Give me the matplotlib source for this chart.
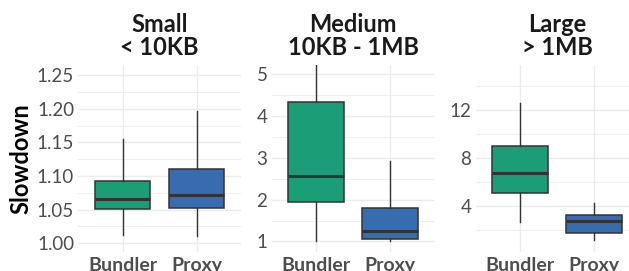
import matplotlib
matplotlib.use("Agg")
import matplotlib.pyplot as plt
from matplotlib.ticker import FixedLocator

plt.rcParams['font.family'] = ['Lato', 'DejaVu Sans']

groups = ["Bundler", "Proxy"]
panel_titles = ["Small\n< 10KB", "Medium\n10KB - 1MB", "Large\n> 1MB"]

# per panel: [Bundler, Proxy] stats (whislo, q1, med, q3, whishi)
small_whislo = [1.012, 1.010]
small_q1 = [1.051, 1.052]
small_med = [1.066, 1.071]
small_q3 = [1.092, 1.110]
small_whishi = [1.155, 1.197]

medium_whislo = [1.00, 1.00]
medium_q1 = [1.94, 1.06]
medium_med = [2.57, 1.26]
medium_q3 = [4.32, 1.80]
medium_whishi = [5.25, 2.91]

large_whislo = [2.7, 1.23]
large_q1 = [5.14, 1.78]
large_med = [6.78, 2.75]
large_q3 = [9.0, 3.25]
large_whishi = [12.56, 4.3]

panels = [
    (small_whislo, small_q1, small_med, small_q3, small_whishi),
    (medium_whislo, medium_q1, medium_med, medium_q3, medium_whishi),
    (large_whislo, large_q1, large_med, large_q3, large_whishi),
]

ylims = [(0.9876, 1.265), (0.76, 5.215), (0.25, 15.75)]
majors = [[1.00, 1.05, 1.10, 1.15, 1.20, 1.25], [1, 2, 3, 4, 5], [4, 8, 12]]
minors = [[1.025, 1.075, 1.125, 1.175, 1.225], [1.5, 2.5, 3.5, 4.5], [2, 6, 10, 14]]
fmts = ["{:.2f}", "{:.0f}", "{:.0f}"]

colors = ["#1b9e77", "#386cb0"]

W, H = 629, 271
fig = plt.figure(figsize=(W / 100, H / 100), dpi=100)

lefts = [78.3, 271.6, 475.6]
pw = 162.8
top_px, bot_px = 65, 251.5

for i, (stats_arr, lft) in enumerate(zip(panels, lefts)):
    ax = fig.add_axes([lft / W, 1 - bot_px / H, pw / W, (bot_px - top_px) / H])
    wlo, q1, med, q3, whi = stats_arr
    stats = []
    for j, g in enumerate(groups):
        stats.append(dict(label=g, whislo=wlo[j], q1=q1[j], med=med[j], q3=q3[j], whishi=whi[j], fliers=[]))
    bp = ax.bxp(stats, positions=[1, 2], widths=0.75, patch_artist=True, showcaps=False,
                showfliers=False,
                boxprops=dict(edgecolor="#333333", linewidth=1.1),
                medianprops=dict(color="#333333", linewidth=2.2),
                whiskerprops=dict(color="#333333", linewidth=1.0))
    for patch, c in zip(bp['boxes'], colors):
        patch.set_facecolor(c)
    ax.set_xlim(0.4, 2.6)
    ax.set_ylim(*ylims[i])
    ax.yaxis.set_major_locator(FixedLocator(majors[i]))
    ax.yaxis.set_minor_locator(FixedLocator(minors[i]))
    ax.set_yticklabels([fmts[i].format(v) for v in majors[i]])
    ax.set_xticks([1, 2])
    ax.set_xticklabels(groups, fontweight="bold")
    ax.grid(True, which="major", color="#ebebeb", linewidth=1.0, zorder=0)
    ax.grid(True, which="minor", axis="y", color="#ebebeb", linewidth=0.6, zorder=0)
    ax.set_axisbelow(True)
    for s in ax.spines.values():
        s.set_visible(False)
    ax.tick_params(axis="both", which="both", length=0)
    ax.tick_params(axis="y", labelsize=13.5, colors="#4d4d4d", pad=3)
    ax.tick_params(axis="x", labelsize=14, colors="#4d4d4d", pad=4)
    ax.set_title(panel_titles[i], fontsize=17, fontweight="bold", color="#1a1a1a",
                 pad=7, linespacing=1.0)
    if i == 0:
        ax.set_ylabel("Slowdown", fontsize=17, fontweight="bold", color="black", labelpad=3)

fig.savefig("out.png", dpi=100, facecolor="white")
